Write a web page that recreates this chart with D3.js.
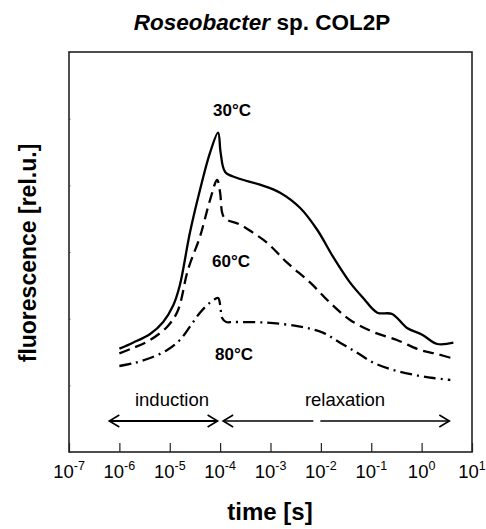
<!DOCTYPE html>
<html><head><meta charset="utf-8">
<script src="https://cdn.jsdelivr.net/npm/d3@7"></script>
<style>body{margin:0;background:#fff}svg{display:block}text{font-family:Arial,"Liberation Sans",sans-serif}</style>
</head><body><svg id="c" width="486" height="529"></svg>
<script>
const logT30 = [-6.0,-5.73,-5.39,-5.13,-4.93,-4.80,-4.60,-4.40,-4.20,-4.04,-3.99,-3.90,-3.66,-3.21,-2.81,-2.41,-2.07,-1.76,-1.42,-1.16,-0.88,-0.585,-0.29,0.01,0.31,0.63];
const f30    = [1.55,1.64,1.77,1.95,2.20,2.50,3.29,3.93,4.49,4.79,4.49,4.20,4.11,4.01,3.89,3.66,3.33,2.93,2.54,2.31,2.09,2.07,1.86,1.76,1.62,1.64];
const logT60 = [-6.0,-5.73,-5.39,-5.05,-4.84,-4.64,-4.40,-4.20,-4.06,-4.0,-3.96,-3.90,-3.60,-3.35,-3.07,-2.67,-2.21,-1.82,-1.42,-0.96,-0.49,-0.03,0.31,0.63];
const f60    = [1.48,1.56,1.68,1.88,2.12,2.73,3.23,3.78,4.08,3.89,3.59,3.50,3.41,3.29,3.14,2.84,2.54,2.24,1.98,1.80,1.68,1.53,1.47,1.40];
const logT80 = [-6.0,-5.73,-5.39,-5.05,-4.80,-4.60,-4.40,-4.20,-4.04,-4.0,-3.96,-3.88,-3.74,-3.07,-2.41,-1.96,-1.62,-1.28,-0.96,-0.56,-0.17,0.23,0.57];
const f80    = [1.29,1.33,1.41,1.53,1.68,1.88,2.09,2.24,2.31,2.21,2.01,1.95,1.95,1.94,1.88,1.79,1.64,1.49,1.34,1.23,1.16,1.11,1.08];
const seriesNames = ["30°C","60°C","80°C"];
const tickExps = [-7,-6,-5,-4,-3,-2,-1,0,1];
const arrowInduction = [-6.2,-4.05];
const arrowRelaxation = [-3.94,0.55];
const relaxGap = [-2.15,-2.01];

const svg = d3.select("#c");
const L=69,R=472,T=52,B=452;
const x = d3.scaleLog().domain([1e-7,1e1]).range([L,R]);
const y = d3.scaleLinear().domain([0,6]).range([B,T]);

// title
const title = svg.append("text").attr("x",262).attr("y",30).attr("text-anchor","middle")
  .attr("font-size",22.5).attr("font-weight","bold");
title.append("tspan").attr("font-style","italic").text("Roseobacter");
title.append("tspan").text(" sp. COL2P");

// axes
const xa = svg.append("g").attr("transform",`translate(0,${B})`)
  .call(d3.axisBottom(x).tickValues(tickExps.map(e=>Math.pow(10,e))).tickSize(-9).tickSizeOuter(0).tickFormat(""));
xa.select(".domain").remove();
xa.selectAll("line").attr("stroke","#222").attr("stroke-width",1.2);
tickExps.forEach(e=>{
  const t = svg.append("text").attr("x",x(Math.pow(10,e))).attr("y",478).attr("text-anchor","middle").attr("font-size",18.5);
  t.append("tspan").text("10");
  t.append("tspan").attr("font-size",12.5).attr("dy",-8).text(String(e));
});
const ya = svg.append("g").attr("transform",`translate(${L},0)`)
  .call(d3.axisLeft(y).ticks(6).tickSize(-2).tickSizeOuter(0).tickFormat(""));
ya.select(".domain").remove();
ya.selectAll("line").attr("stroke","#aaa").attr("stroke-width",1);

svg.append("rect").attr("x",L).attr("y",T).attr("width",R-L).attr("height",B-T)
  .attr("fill","none").attr("stroke","#222").attr("stroke-width",1.6);

svg.append("text").attr("x",270).attr("y",520).attr("text-anchor","middle").attr("font-size",24).attr("font-weight","bold").text("time [s]");
svg.append("text").attr("transform","translate(36,253) rotate(-90)").attr("text-anchor","middle").attr("font-size",23).attr("font-weight","bold").text("fluorescence [rel.u.]");

// curves
const line = d3.line().x(d=>x(Math.pow(10,d[0]))).y(d=>y(d[1])).curve(d3.curveCatmullRom.alpha(0.5));
const series = [[logT30,f30,null],[logT60,f60,"11,6"],[logT80,f80,"12,5,2,5"]];
series.forEach(([lt,f,dash])=>{
  svg.append("path").datum(lt.map((v,i)=>[v,f[i]])).attr("d",line).attr("fill","none")
    .attr("stroke","#000").attr("stroke-width",2.3).attr("stroke-linejoin","round")
    .attr("stroke-dasharray",dash);
});
const labelPos = [[232,116],[231,267],[234,360]];
seriesNames.forEach((n,i)=>{
  svg.append("text").attr("x",labelPos[i][0]).attr("y",labelPos[i][1]).attr("text-anchor","middle")
    .attr("font-size",17).attr("font-weight","bold").text(n);
});

// arrows
const ay = 421;
function arrowHead(px,dir){
  svg.append("path").attr("d",`M${px-dir*10},${ay-6}L${px},${ay}L${px-dir*10},${ay+6}`)
   .attr("fill","none").attr("stroke","#000").attr("stroke-width",1.6);
}
const xi0=x(Math.pow(10,arrowInduction[0])), xi1=x(Math.pow(10,arrowInduction[1]));
svg.append("line").attr("x1",xi0).attr("x2",xi1).attr("y1",ay).attr("y2",ay).attr("stroke","#000").attr("stroke-width",1.8);
arrowHead(xi0,-1); arrowHead(xi1,1);
const xr0=x(Math.pow(10,arrowRelaxation[0])), xr1=x(Math.pow(10,arrowRelaxation[1]));
const xg0=x(Math.pow(10,relaxGap[0])), xg1=x(Math.pow(10,relaxGap[1]));
svg.append("line").attr("x1",xr0).attr("x2",xg0).attr("y1",ay).attr("y2",ay).attr("stroke","#000").attr("stroke-width",1.4);
svg.append("line").attr("x1",xg1).attr("x2",xr1).attr("y1",ay).attr("y2",ay).attr("stroke","#000").attr("stroke-width",1.4);
arrowHead(xr0,-1); arrowHead(xr1,1);
svg.append("text").attr("x",172).attr("y",406).attr("text-anchor","middle").attr("font-size",18.5).text("induction");
svg.append("text").attr("x",345).attr("y",406).attr("text-anchor","middle").attr("font-size",18.5).text("relaxation");
</script></body></html>
